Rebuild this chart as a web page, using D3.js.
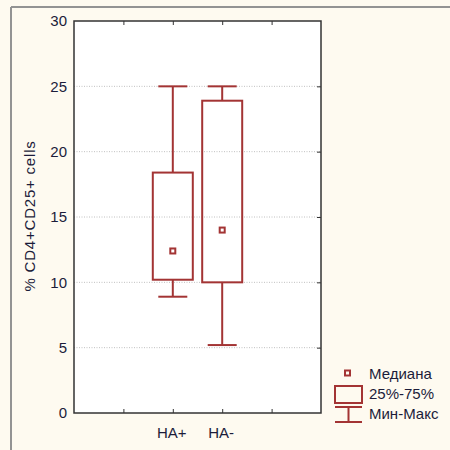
<!DOCTYPE html>
<html>
<head>
<meta charset="utf-8">
<script src="https://cdn.jsdelivr.net/npm/d3@7"></script>
<style>
  body { margin: 0; background: #fefaf0; }
  svg { display: block; }
  text { font-family: "Liberation Sans", Arial, sans-serif; }
</style>
</head>
<body>
<script>
// groups and box stats
var groups = ["HA+", "HA-"];
var mins = [8.9, 5.2];
var q1s = [10.2, 10];
var medians = [12.4, 14];
var q3s = [18.4, 23.9];
var maxs = [25, 25];
var yTicks = [0, 5, 10, 15, 20, 25, 30];
var legendLabels = ["Медиана", "25%-75%", "Мин-Макс"];

var col = "#a33434";
var txt = "#1c1c3a";

var margins = {top: 21, bottom: 37, left: 74, right: 129};
var W = 450, H = 450;

var svg = d3.select("body").append("svg")
  .attr("width", W)
  .attr("height", H);

// outer frame (only top and left visible)
svg.append("line").attr("x1", 11).attr("x2", W).attr("y1", 7).attr("y2", 7)
  .attr("stroke", "#939393").attr("stroke-width", 2);
svg.append("line").attr("x1", 11).attr("x2", 11).attr("y1", 7).attr("y2", H)
  .attr("stroke", "#939393").attr("stroke-width", 2);

// scales: five slots, groups at positions 2 and 3
var xScale = d3.scaleLinear().domain([0, 5]).range([margins.left, W - margins.right]);
var yScale = d3.scaleLinear().domain([0, 30]).range([H - margins.bottom, margins.top]);
var pos = function(i) { return xScale(i + 2); };

// plot background
svg.append("rect")
  .attr("x", xScale(0)).attr("y", yScale(30))
  .attr("width", xScale(5) - xScale(0)).attr("height", yScale(0) - yScale(30))
  .attr("fill", "#fff");

// grid lines
svg.append("g").selectAll("line")
  .data(yTicks.filter(function(d) { return d > 0 && d < 30; }))
  .enter().append("line")
    .attr("x1", xScale(0)).attr("x2", xScale(5))
    .attr("y1", function(d) { return yScale(d); })
    .attr("y2", function(d) { return yScale(d); })
    .attr("stroke", "#c0c0c0")
    .attr("stroke-dasharray", "1,1.5");

// y axis labels
var yAxis = d3.axisLeft(yScale).tickValues(yTicks).tickSize(0).tickPadding(7);
var gy = svg.append("g")
  .attr("transform", "translate(" + xScale(0) + ",0)")
  .call(yAxis);
gy.select(".domain").remove();
gy.selectAll("text").attr("font-size", 15).attr("fill", txt)
  .attr("font-family", "Liberation Sans, Arial, sans-serif");

// right side inner ticks
var gr = svg.append("g")
  .attr("transform", "translate(" + xScale(5) + ",0)")
  .call(d3.axisLeft(yScale).tickValues(yTicks.slice(1, 6)).tickSize(4).tickFormat(""));
gr.select(".domain").remove();
gr.selectAll("line").attr("stroke", "#333");

// x axis: ticks at 1..4 pointing inward
var gx = svg.append("g")
  .attr("transform", "translate(0," + yScale(0) + ")")
  .call(d3.axisTop(xScale).tickValues([1, 2, 3, 4]).tickSize(4).tickFormat(""));
gx.select(".domain").remove();
gx.selectAll("line").attr("stroke", "#333");
var gt = svg.append("g")
  .attr("transform", "translate(0," + yScale(30) + ")")
  .call(d3.axisBottom(xScale).tickValues([1, 2, 3, 4]).tickSize(4).tickFormat(""));
gt.select(".domain").remove();
gt.selectAll("line").attr("stroke", "#333");

// group labels
svg.append("g").selectAll("text")
  .data(groups)
  .enter().append("text")
    .attr("x", function(d, i) { return pos(i) - 1; })
    .attr("y", yScale(0) + 25)
    .attr("text-anchor", "middle")
    .attr("font-size", 15)
    .attr("fill", txt)
    .text(function(d) { return d; });

// plot border
svg.append("rect")
  .attr("x", xScale(0)).attr("y", yScale(30))
  .attr("width", xScale(5) - xScale(0)).attr("height", yScale(0) - yScale(30))
  .attr("fill", "none").attr("stroke", "#333").attr("stroke-width", 1.5);

// y title
svg.append("text")
  .attr("transform", "translate(35," + (yScale(15) - 1) + ") rotate(-90)")
  .attr("text-anchor", "middle")
  .attr("font-size", 15)
  .attr("letter-spacing", 0.8)
  .attr("fill", txt)
  .text("% CD4+CD25+ cells");

// boxes
var boxW = 40, capW = 29;
var bg = svg.append("g")
  .attr("stroke", col).attr("stroke-width", 2).attr("fill", "none");

groups.forEach(function(g, i) {
  var cx = pos(i);
  bg.append("line").attr("x1", cx).attr("x2", cx)
    .attr("y1", yScale(maxs[i])).attr("y2", yScale(q3s[i]));
  bg.append("line").attr("x1", cx).attr("x2", cx)
    .attr("y1", yScale(q1s[i])).attr("y2", yScale(mins[i]));
  bg.append("line").attr("x1", cx - capW / 2).attr("x2", cx + capW / 2)
    .attr("y1", yScale(maxs[i])).attr("y2", yScale(maxs[i]));
  bg.append("line").attr("x1", cx - capW / 2).attr("x2", cx + capW / 2)
    .attr("y1", yScale(mins[i])).attr("y2", yScale(mins[i]));
  bg.append("rect")
    .attr("x", cx - boxW / 2).attr("y", yScale(q3s[i]))
    .attr("width", boxW).attr("height", yScale(q1s[i]) - yScale(q3s[i]));
  bg.append("rect")
    .attr("x", cx - 2.5).attr("y", yScale(medians[i]) - 2.5)
    .attr("width", 5).attr("height", 5);
});

// legend
var lg = svg.append("g").attr("transform", "translate(335,373)");
lg.append("rect").attr("x", 10).attr("y", -2.5).attr("width", 5).attr("height", 5)
  .attr("fill", "none").attr("stroke", col).attr("stroke-width", 2);
lg.append("rect").attr("x", 0).attr("y", 13).attr("width", 27).attr("height", 17)
  .attr("fill", "none").attr("stroke", col).attr("stroke-width", 2);
lg.append("line").attr("x1", 0).attr("x2", 27).attr("y1", 34).attr("y2", 34)
  .attr("stroke", col).attr("stroke-width", 2);
lg.append("line").attr("x1", 0).attr("x2", 27).attr("y1", 49).attr("y2", 49)
  .attr("stroke", col).attr("stroke-width", 2);
lg.append("line").attr("x1", 13.5).attr("x2", 13.5).attr("y1", 34).attr("y2", 49)
  .attr("stroke", col).attr("stroke-width", 2);

lg.selectAll("text.lbl")
  .data(legendLabels)
  .enter().append("text")
    .attr("class", "lbl")
    .attr("x", 34)
    .attr("y", function(d, i) { return i * 20 + 5.5; })
    .attr("font-size", 15)
    .attr("fill", txt)
    .text(function(d) { return d; });
</script>
</body>
</html>
